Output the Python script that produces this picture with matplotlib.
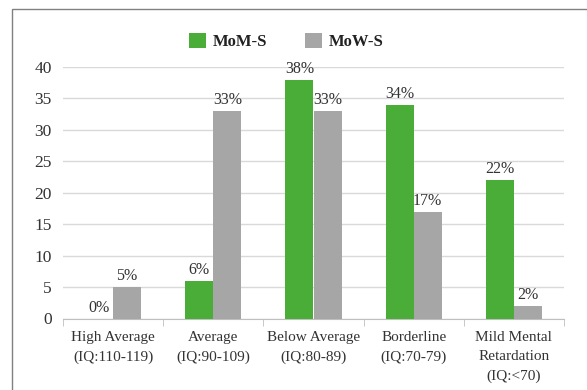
import numpy as np
import matplotlib.pyplot as plt
from matplotlib.patches import Patch, Rectangle

plt.rcParams['font.family'] = ['Liberation Serif', 'DejaVu Serif']

categories = ['High Average\n(IQ:110-119)', 'Average\n(IQ:90-109)', 'Below Average\n(IQ:80-89)',
              'Borderline\n(IQ:70-79)', 'Mild Mental\nRetardation\n(IQ:<70)']
mom_s = [0, 6, 38, 34, 22]
mow_s = [5, 33, 33, 17, 2]
series_names = ['MoM-S', 'MoW-S']

green = '#4aad38'
gray = '#a6a6a6'
txt = '#333333'

fig = plt.figure(figsize=(5.87, 3.90), dpi=100)
ax = fig.add_axes([63/587, 1 - 318.5/390, 501/587, 251.5/390])

# outer frame
fig.patches.append(Rectangle((12/587, -0.1), 1.2, 1 - 9/390 + 0.1, transform=fig.transFigure,
                             fill=False, edgecolor='#808080', linewidth=1.0))

x = np.arange(len(categories))
w = 0.28
b1 = ax.bar(x - w/2, mom_s, w, color=green, zorder=3)
b2 = ax.bar(x + w/2, mow_s, w, color=gray, zorder=3)

for bars, vals in ((b1, mom_s), (b2, mow_s)):
    for r, v in zip(bars, vals):
        ax.annotate(f'{v}%', (r.get_x() + r.get_width()/2, v), xytext=(0, 2),
                    textcoords='offset points', ha='center', va='bottom',
                    fontsize=11.5, color=txt)

ax.set_xlim(-0.5, len(categories) - 0.5)
ax.set_ylim(0, 40)
ax.set_yticks(range(0, 41, 5))
ax.yaxis.grid(True, color='#d9d9d9', linewidth=1.0, zorder=0)
ax.set_axisbelow(True)

ax.set_xticks(x)
ax.set_xticklabels(categories, fontsize=11, color=txt, linespacing=1.6, va='top')
ax.set_xticks(np.arange(-0.5, len(categories)), minor=True)
ax.tick_params(axis='x', which='major', length=0, pad=9)
ax.tick_params(axis='x', which='minor', length=5, color='#bfbfbf')
ax.tick_params(axis='y', length=0, labelsize=12.5, labelcolor=txt, pad=8)

for s in ('top', 'right', 'left'):
    ax.spines[s].set_visible(False)
ax.spines['bottom'].set_color('#bfbfbf')

handles = [Patch(facecolor=green), Patch(facecolor=gray)]
fig.legend(handles, series_names, loc='center', bbox_to_anchor=(0.488, 1 - 41.5/390), ncol=2,
           frameon=False, prop={'weight': 'bold', 'size': 12}, handlelength=1.0, handleheight=1.0,
           handletextpad=0.4, columnspacing=2.3, labelcolor='#222222')

fig.savefig('out.png', dpi=100)
